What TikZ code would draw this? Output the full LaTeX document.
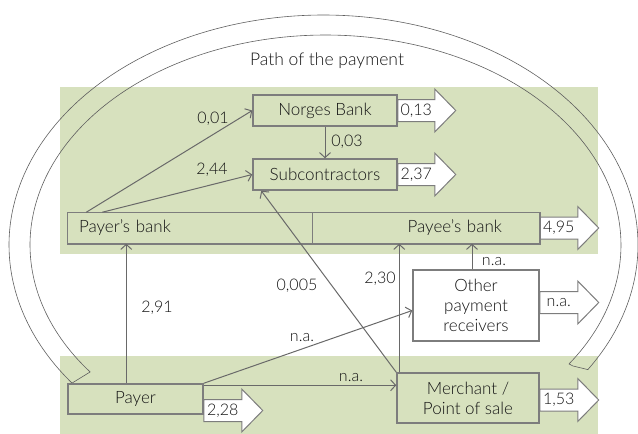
\documentclass[tikz,border=0pt]{standalone}
\usepackage{fontspec}
\setmainfont{Lato Light}
\usetikzlibrary{arrows.meta,calc}
\definecolor{bandgreen}{RGB}{215,225,190}
\definecolor{boxgray}{RGB}{125,125,125}
\definecolor{linegray}{RGB}{105,105,105}
\definecolor{arcgray}{RGB}{95,95,95}
\definecolor{txt}{RGB}{20,20,20}
\tikzset{
  box/.style={draw=boxgray, line width=1.5pt, fill=bandgreen, inner sep=0pt, text=txt, align=center, font=\fontsize{17}{20}\selectfont},
  whitebox/.style={box, fill=white},
  bankbox/.style={box, draw=none},
  conn/.style={draw=linegray, line width=1pt, -{Straight Barb[length=5pt,width=11pt]}},
  barr/.style={draw=boxgray, line width=1pt, fill=white, line join=miter},
  lbl/.style={text=txt, inner sep=0pt, font=\fontsize{16}{19}\selectfont},
  arcline/.style={draw=arcgray, line width=0.6pt},
  band/.style={fill=bandgreen, draw=none}
}
\newcommand\blockarrow[4]{%
  \begin{scope}[shift={($(#1)+(0,#2)$)}]
    \draw[barr] (0,-11) -- ({#3-21},-11) -- ({#3-21},-21.5) -- (#3,0) -- ({#3-21},21.5) -- ({#3-21},11) -- (0,11) -- cycle;
    \node[lbl] at ({(#3-21)/2},0) {#4};
  \end{scope}}
\begin{document}
\begin{tikzpicture}[x=1pt,y=-1pt]
\useasboundingbox (0,0) rectangle (638,434);
% bands
\fill[band] (60,87) rectangle (598,254);
\fill[band] (60,356) rectangle (598,434);
% curved path arrow
\draw[arcline] plot[domain=216.9:-32.8, samples=120, smooth] ({323.5+314.5*cos(\x)},{245-230*sin(\x)})
  -- (573,366) -- plot[domain=-34.5:217.2, samples=120, smooth] ({325.5+295.5*cos(\x)},{245-210*sin(\x)}) -- cycle;
\node[lbl, font=\fontsize{17.5}{20}\selectfont] (path) at (327,61) {Path of the payment};
% node frames (block arrows are drawn after them, boxes redrawn on top)
\node[box, minimum width=144pt, minimum height=31pt] (nb) at (325,110.5) {};
\node[box, minimum width=144pt, minimum height=31pt] (sub) at (325,174.5) {};
\node[bankbox, minimum width=244pt, minimum height=30pt] (pyb) at (190,228) {};
\node[bankbox, minimum width=227pt, minimum height=30pt] (peb) at (425.5,228) {};
\node[box, minimum width=135pt, minimum height=30pt] (payer) at (135.5,399) {};
\node[box, minimum width=142pt, minimum height=50pt] (merch) at (468,398) {};
\node[whitebox, minimum width=126pt, minimum height=71pt] (other) at (476,305.5) {};
\blockarrow{nb.east}{0}{58}{0,13}
\blockarrow{sub.east}{0}{58}{2,37}
\blockarrow{peb.east}{0}{59}{4,95}
\blockarrow{other.east}{-3}{59}{n.a.}
\blockarrow{merch.east}{2}{59}{1,53}
\blockarrow{payer.east}{11.5}{59}{2,28}
% boxes with their texts
\node[box, minimum width=144pt, minimum height=31pt] at (nb) {Norges Bank};
\node[box, minimum width=144pt, minimum height=31pt] at (sub) {Subcontractors};
\node[bankbox, minimum width=244pt, minimum height=30pt, text width=222pt, align=left] at (pyb) {Payer’s bank};
\node[bankbox, minimum width=227pt, minimum height=30pt, text width=153pt, align=right] at (peb) {Payee’s bank};
\draw[draw=boxgray, line width=1.5pt] (pyb.north west) rectangle (peb.south east);
\draw[draw=boxgray, line width=0.7pt] (pyb.north east) -- (pyb.south east);
\node[box, minimum width=135pt, minimum height=30pt] at (payer) {Payer};
\node[box, minimum width=142pt, minimum height=50pt] at (merch) {Merchant /\\Point of sale};
\node[whitebox, minimum width=126pt, minimum height=71pt] at (other) {Other\\payment\\receivers};
% connectors
\draw[conn] ($(pyb.north west)+(19,0)$) -- (nb.west);
\draw[conn] ($(pyb.north west)+(35,0)$) -- (sub.west);
\draw[conn] (nb.south) -- (sub.north);
\draw[conn] ($(payer.north west)+(59,0)$) -- ($(pyb.south west)+(59,0)$);
\draw[conn] (merch.north west) -- ($(sub.south west)+(9,0)$);
\draw[conn] ($(merch.north west)+(3,0)$) -- ($(peb.south west)+(88,0)$);
\coordinate (oa) at ($(other.north)+(-4,0)$);
\draw[conn] (oa) -- (oa |- peb.south);
\draw[conn] (payer.north east) -- ($(other.west)+(0,5)$);
\coordinate (pm) at ($(payer.north east)+(0,2)$);
\draw[conn] (pm) -- (pm -| merch.west);
% labels
\node[lbl] at (213,119) {0,01};
\node[lbl] at (212,170) {2,44};
\node[lbl] at (347,142) {0,03};
\node[lbl] at (157,308) {2,91};
\node[lbl] at (297,286) {0,005};
\node[lbl] at (302,338) {n.a.};
\node[lbl] at (380,279) {2,30};
\node[lbl] at (494,262) {n.a.};
\node[lbl] at (351,378) {n.a.};
\end{tikzpicture}
\end{document}
